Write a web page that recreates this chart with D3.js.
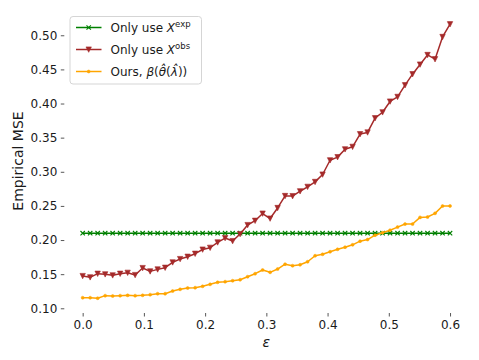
<!DOCTYPE html>
<html>
<head>
<meta charset="utf-8">
<script src="https://cdn.jsdelivr.net/npm/d3@7"></script>
<style>
  body { margin: 0; background: #fff; }
  svg { font-family: "DejaVu Sans", sans-serif; }
</style>
</head>
<body>
<div id="chart"></div>
<script>
// epsilon grid: 50 points between 0 and 0.6
var eps = d3.range(50).map(function (i) { return i * 0.6 / 49; });

var expMSE = [0.2100, 0.2100, 0.2100, 0.2100, 0.2100, 0.2100, 0.2100, 0.2100, 0.2100, 0.2100,
    0.2100, 0.2100, 0.2100, 0.2100, 0.2100, 0.2100, 0.2100, 0.2100, 0.2100, 0.2100,
    0.2100, 0.2100, 0.2100, 0.2100, 0.2100, 0.2100, 0.2100, 0.2100, 0.2100, 0.2100,
    0.2100, 0.2100, 0.2100, 0.2100, 0.2100, 0.2100, 0.2100, 0.2100, 0.2100, 0.2100,
    0.2100, 0.2100, 0.2100, 0.2100, 0.2100, 0.2100, 0.2100, 0.2100, 0.2100, 0.2100];

var obsMSE = [0.1473, 0.1454, 0.1507, 0.1498, 0.1483, 0.1507, 0.1521, 0.1488, 0.1590, 0.1541,
    0.1570, 0.1595, 0.1673, 0.1722, 0.1756, 0.1800, 0.1861, 0.1887, 0.1966, 0.2029,
    0.1985, 0.2088, 0.2220, 0.2283, 0.2388, 0.2315, 0.2470, 0.2646, 0.2644, 0.2715,
    0.2780, 0.2852, 0.2960, 0.3169, 0.3215, 0.3330, 0.3366, 0.3552, 0.3577, 0.3786,
    0.3872, 0.4030, 0.4098, 0.4269, 0.4430, 0.4572, 0.4712, 0.4650, 0.4976, 0.5162];

var oursMSE = [0.1155, 0.1155, 0.1148, 0.1185, 0.1180, 0.1185, 0.1190, 0.1185, 0.1190, 0.1200,
    0.1214, 0.1214, 0.1253, 0.1278, 0.1297, 0.1302, 0.1322, 0.1351, 0.1381, 0.1390,
    0.1404, 0.1419, 0.1463, 0.1507, 0.1561, 0.1527, 0.1575, 0.1646, 0.1624, 0.1638,
    0.1682, 0.1770, 0.1791, 0.1829, 0.1864, 0.1895, 0.1930, 0.1983, 0.2007, 0.2071,
    0.2107, 0.2144, 0.2190, 0.2234, 0.2234, 0.2332, 0.2337, 0.2391, 0.2498, 0.2500];

var xTicks = [0.0, 0.1, 0.2, 0.3, 0.4, 0.5, 0.6];
var yTicks = [0.10, 0.15, 0.20, 0.25, 0.30, 0.35, 0.40, 0.45, 0.50];

var w = 479;
var h = 360;

var svg = d3.select("#chart")
    .append("svg")
    .attr("width", w)
    .attr("height", h);

var x = d3.scaleLinear().domain([-0.03, 0.63]).range([64.3, 468.4]);
var y = d3.scaleLinear().domain([0.0931, 0.5319]).range([313, 13.5]);

// axes, no spines
var xAxis = svg.append("g")
    .attr("transform", "translate(0,313)")
    .call(d3.axisBottom(x).tickValues(xTicks).tickFormat(d3.format(".1f"))
        .tickSize(3.5).tickPadding(3.5));
var yAxis = svg.append("g")
    .attr("transform", "translate(64.3,0)")
    .call(d3.axisLeft(y).tickValues(yTicks).tickFormat(d3.format(".2f"))
        .tickSize(3.5).tickPadding(3.5));

[xAxis, yAxis].forEach(function (a) {
    a.select(".domain").remove();
    a.selectAll(".tick line").attr("stroke", "#444").attr("stroke-width", 0.9);
    a.selectAll(".tick text")
        .attr("fill", "#1a1a1a")
        .style("font-size", "12px")
        .style("font-family", "DejaVu Sans");
});

svg.append("text")
    .attr("transform", "translate(23,161) rotate(-90)")
    .attr("text-anchor", "middle")
    .style("font-size", "14px")
    .attr("fill", "#1a1a1a")
    .text("Empirical MSE");

svg.append("text")
    .attr("x", 266.4)
    .attr("y", 347)
    .attr("text-anchor", "middle")
    .style("font-size", "14px")
    .style("font-style", "italic")
    .attr("fill", "#1a1a1a")
    .text("ε");

var series = [
    { name: "exp", values: expMSE, color: "green", marker: "x" },
    { name: "obs", values: obsMSE, color: "brown", marker: "v" },
    { name: "ours", values: oursMSE, color: "orange", marker: "." }
];

var line = d3.line()
    .x(function (d, i) { return x(eps[i]); })
    .y(function (d) { return y(d); });

function drawMarker(g, type, color) {
    if (type === "x") {
        g.append("path")
            .attr("d", "M-2.2,-2.2L2.2,2.2M-2.2,2.2L2.2,-2.2")
            .attr("stroke", color)
            .attr("stroke-width", 1.1)
            .attr("fill", "none");
    } else if (type === "v") {
        g.append("path")
            .attr("d", "M-2.7,-2.6L2.7,-2.6L0,2.8Z")
            .attr("fill", color)
            .attr("stroke", color)
            .attr("stroke-width", 0.6);
    } else {
        g.append("circle")
            .attr("r", 1.5)
            .attr("fill", color)
            .attr("stroke", color)
            .attr("stroke-width", 0.5);
    }
}

series.forEach(function (s) {
    var g = svg.append("g");
    g.append("path")
        .datum(s.values)
        .attr("d", line)
        .attr("fill", "none")
        .attr("stroke", s.color)
        .attr("stroke-width", 1.5)
        .attr("stroke-linejoin", "round");
    g.selectAll("g.m")
        .data(s.values)
        .enter()
        .append("g")
        .attr("class", "m")
        .attr("transform", function (d, i) {
            return "translate(" + x(eps[i]) + "," + y(d) + ")";
        })
        .each(function () { drawMarker(d3.select(this), s.marker, s.color); });
});

// legend
var leg = svg.append("g");
leg.append("rect")
    .attr("x", 70)
    .attr("y", 16.5)
    .attr("width", 131.5)
    .attr("height", 67.5)
    .attr("rx", 3)
    .attr("fill", "#fff")
    .attr("fill-opacity", 0.8)
    .attr("stroke", "#d5d5d5")
    .attr("stroke-width", 1);

var rowY = [27.5, 49.5, 71.5];
series.forEach(function (s, i) {
    leg.append("line")
        .attr("x1", 76).attr("x2", 101.5)
        .attr("y1", rowY[i]).attr("y2", rowY[i])
        .attr("stroke", s.color)
        .attr("stroke-width", 1.5);
    var m = leg.append("g").attr("transform", "translate(88.7," + rowY[i] + ")");
    drawMarker(m, s.marker, s.color);
});

function legText(yy) {
    return leg.append("text")
        .attr("x", 110.5)
        .attr("y", yy + 4.3)
        .style("font-size", "12px")
        .attr("fill", "#1a1a1a");
}

var t1 = legText(rowY[0]);
t1.append("tspan").text("Only use ");
t1.append("tspan").style("font-style", "italic").text("X");
t1.append("tspan").attr("dy", -5).style("font-size", "8.5px").text("exp");

var t2 = legText(rowY[1]);
t2.append("tspan").text("Only use ");
t2.append("tspan").style("font-style", "italic").text("X");
t2.append("tspan").attr("dy", -5).style("font-size", "8.5px").text("obs");

var t3 = legText(rowY[2]);
t3.append("tspan").text("Ours, ");
t3.append("tspan").style("font-style", "italic").text("β");
t3.append("tspan").text("(");
t3.append("tspan").style("font-style", "italic").text("θ\u0302");
t3.append("tspan").text("(");
t3.append("tspan").style("font-style", "italic").text("λ\u0302");
t3.append("tspan").text("))");
</script>
</body>
</html>
